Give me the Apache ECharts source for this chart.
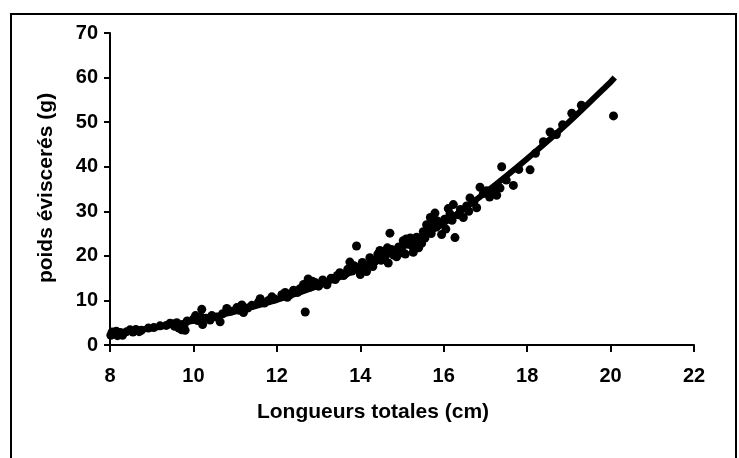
<!DOCTYPE html>
<html>
<head>
<meta charset="utf-8">
<script src="https://cdn.jsdelivr.net/npm/echarts@6/dist/echarts.min.js"></script>
<style>
  html, body { margin: 0; padding: 0; background: #fff; }
  #chart { width: 739px; height: 458px; }
</style>
</head>
<body>
<div id="chart"></div>
<script>
// Total length (cm) and gutted weight (g) of each measured fish
const lengths = [
  8.02, 8.05, 8.1, 8.18, 8.25, 8.3, 8.4, 8.48, 8.55, 8.62, 8.75, 8.92, 9.05, 9.2, 9.35, 9.44,
  9.55, 9.6, 9.65, 9.72, 9.78, 9.8, 9.85, 10.0, 10.1, 10.18, 10.2, 10.22, 10.3, 10.44, 10.55,
  10.64, 10.7, 10.8, 10.9, 11.04, 11.1, 11.16, 11.3, 11.4, 11.56, 11.7, 11.8, 11.88, 11.95,
  12.12, 12.2, 12.3, 12.4, 12.5, 12.64, 12.68, 12.75, 12.8, 12.92, 13.0, 13.1, 13.2, 13.3,
  13.4, 13.51, 13.6, 13.7, 13.75, 13.8, 13.85, 13.91, 14.0, 14.05, 14.1, 14.15, 14.23, 14.3,
  14.35, 14.42, 14.47, 14.5, 14.6, 14.67, 14.71, 14.75, 14.8, 14.87, 14.92, 15.0, 15.03,
  15.08, 15.15, 15.2, 15.27, 15.3, 15.35, 15.42, 15.47, 15.51, 15.55, 15.59, 15.62, 15.68,
  15.75, 15.79, 15.83, 15.9, 15.95, 16.02, 16.11, 16.2, 16.23, 16.27, 16.35, 16.47, 16.55,
  16.63, 16.72, 16.79, 16.87, 16.95, 17.03, 17.12, 17.2, 17.27, 17.39, 17.5, 17.67, 17.8,
  18.07, 18.2, 18.39, 18.55, 18.7, 18.85, 19.07, 19.3, 20.07,
  8.15, 8.7, 9.5, 10.05, 10.4, 11.2, 11.6, 12.25, 12.55, 12.85, 13.15, 13.45, 13.65, 13.95,
  14.2, 14.4, 14.55, 14.65, 14.85, 14.95, 15.1, 15.25, 15.4, 15.65, 15.7, 15.85, 16.05,
  16.15, 16.4, 16.6, 17.1, 17.35
];
const weights = [
  2.2, 2.9, 2.5, 2.1, 2.8, 2.2, 3.0, 3.4, 2.9, 3.5, 3.3, 3.8, 3.9, 4.3, 4.4, 4.9,
  4.2, 5.0, 3.8, 3.4, 4.6, 3.3, 5.4, 5.8, 5.5, 6.3, 8.0, 4.6, 6.0, 6.6, 6.3,
  5.2, 7.0, 8.2, 7.6, 8.4, 7.8, 9.0, 8.3, 8.9, 9.6, 9.4, 10.0, 10.8, 10.3,
  11.3, 11.8, 11.2, 12.3, 11.8, 13.6, 7.4, 14.8, 13.0, 14.0, 13.2, 14.6, 13.5, 15.0,
  14.7, 16.2, 15.6, 17.0, 18.6, 16.6, 17.8, 22.2, 15.8, 18.5, 17.2, 16.5, 19.6, 17.6,
  18.8, 20.4, 21.2, 19.0, 20.0, 18.4, 25.1, 21.4, 20.2, 19.8, 22.0, 21.0, 23.4,
  20.4, 22.6, 24.0, 20.8, 22.8, 24.2, 23.2, 22.8, 25.4, 24.0, 27.0, 25.8, 28.6,
  28.0, 29.6, 26.5, 27.4, 24.8, 28.2, 30.6, 28.0, 31.5, 24.1, 29.2, 28.6, 31.2,
  33.0, 32.0, 30.8, 35.4, 34.0, 34.6, 34.0, 34.8, 33.6, 40.0, 37.0, 35.8, 39.4,
  39.3, 43.0, 45.6, 47.8, 47.2, 49.4, 52.0, 53.8, 51.4,
  3.1, 3.0, 4.7, 6.6, 5.6, 7.3, 10.4, 10.7, 12.6, 14.3, 14.0, 15.6, 16.0, 17.4,
  18.0, 19.2, 20.8, 21.8, 21.0, 20.6, 23.8, 22.2, 21.8, 26.8, 25.0, 27.8, 26.0,
  29.4, 30.4, 30.0, 33.2, 35.2
];

// Fitted length–weight curve
const fitLengths = [8, 9, 10, 11, 12, 13, 14, 15, 16, 17, 18, 19, 20, 20.1];
const fitWeights = [2.5, 3.75, 5.4, 7.5, 10.1, 13.3, 17.2, 21.9, 27.3, 34.2, 41.8, 50.0, 59.0, 60.0];

// Axis ranges and steps
const xMin = 8, xMax = 22, xStep = 2;
const yMin = 0, yMax = 70, yStep = 10;

const xTitle = 'Longueurs totales (cm)';
const yTitle = 'poids éviscerés (g)';

const points = lengths.map((x, i) => [x, weights[i]]);
const fitLine = fitLengths.map((x, i) => [x, fitWeights[i]]);

const FONT = '"Liberation Sans", Arial, sans-serif';

const chart = echarts.init(document.getElementById('chart'), null, { renderer: 'canvas' });

chart.setOption({
  backgroundColor: '#ffffff',
  animation: false,
  grid: { left: 110, right: 45, top: 33, bottom: 113, containLabel: false },
  xAxis: {
    type: 'value',
    min: xMin, max: xMax, interval: xStep,
    axisLine: { show: true, onZero: false, lineStyle: { color: '#000', width: 2 } },
    axisTick: { show: true, inside: false, length: 7, lineStyle: { color: '#000', width: 2 } },
    splitLine: { show: false },
    axisLabel: { color: '#000', fontFamily: FONT, fontWeight: 'bold', fontSize: 20, margin: 21 }
  },
  yAxis: {
    type: 'value',
    min: yMin, max: yMax, interval: yStep,
    axisLine: { show: true, lineStyle: { color: '#000', width: 2 } },
    axisTick: { show: true, inside: false, length: 6, lineStyle: { color: '#000', width: 2 } },
    splitLine: { show: false },
    axisLabel: { color: '#000', fontFamily: FONT, fontWeight: 'bold', fontSize: 20, margin: 12 }
  },
  graphic: [
    {
      type: 'rect',
      shape: { x: 11, y: 14, width: 725, height: 470 },
      style: { fill: 'none', stroke: '#000', lineWidth: 2 },
      silent: true
    },
    {
      type: 'text',
      x: 373, y: 412,
      style: {
        text: xTitle, fill: '#000', font: 'bold 21px ' + FONT,
        textAlign: 'center', textVerticalAlign: 'middle'
      }
    },
    {
      type: 'text',
      x: 46, y: 188, rotation: Math.PI / 2,
      style: {
        text: yTitle, fill: '#000', font: 'bold 21px ' + FONT,
        textAlign: 'center', textVerticalAlign: 'middle'
      }
    }
  ],
  series: [
    {
      type: 'scatter',
      data: points,
      symbol: 'circle',
      symbolSize: 9,
      itemStyle: { color: '#000', opacity: 1 },
      z: 2
    },
    {
      type: 'line',
      data: fitLine,
      smooth: 0.3,
      showSymbol: false,
      lineStyle: { color: '#000', width: 6 },
      z: 3
    }
  ]
});
</script>
</body>
</html>
